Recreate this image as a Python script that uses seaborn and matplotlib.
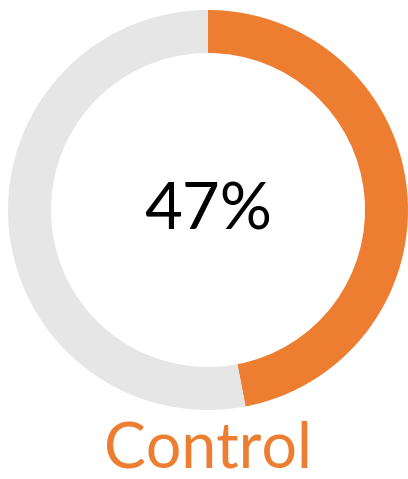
import matplotlib
matplotlib.use("Agg")
import matplotlib.pyplot as plt
import seaborn as sns

# Share of the "Control" group
group_label = "Control"
share_pct = [47, 53]
slice_colors = ["#ED7D31", "#E6E6E6"]

sns.set_theme(style="white")
plt.rcParams["font.family"] = ["Lato", "DejaVu Sans"]

W, H = 408, 479
fig = plt.figure(figsize=(W / 100, H / 100), dpi=100)
fig.patch.set_facecolor("white")

cx, cy, r = 208, 210, 200
ax = fig.add_axes([(cx - r) / W, (H - cy - r) / H, 2 * r / W, 2 * r / H])
ax.pie(
    share_pct,
    colors=slice_colors,
    startangle=90,
    counterclock=False,
    radius=1.0,
    wedgeprops=dict(width=0.215, edgecolor="none"),
)
ax.set_xlim(-1, 1)
ax.set_ylim(-1, 1)
ax.set_axis_off()

ax.text(0, -0.1, f"{share_pct[0]}%", ha="center", va="baseline",
        fontsize=47, color="black")
fig.text(cx / W, 1 - 467 / H, group_label, ha="center", va="baseline",
         fontsize=45, color=slice_colors[0])

fig.savefig("out.png", dpi=100, facecolor="white")
